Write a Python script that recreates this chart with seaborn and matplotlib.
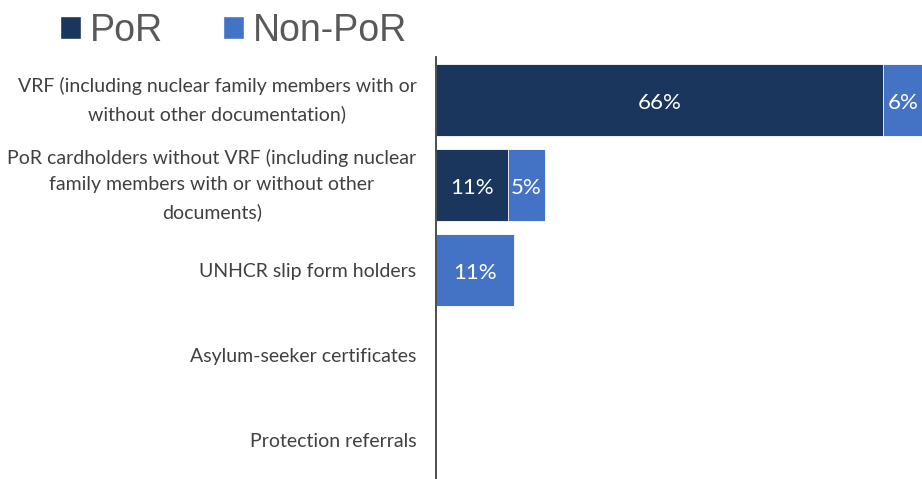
import pandas as pd
import matplotlib.pyplot as plt
from matplotlib.patches import Patch
import seaborn as sns

# Data
categories = [
    'VRF (including nuclear family members with or\nwithout other documentation)',
    'PoR cardholders without VRF (including nuclear\nfamily members with or without other\ndocuments)',
    'UNHCR slip form holders',
    'Asylum-seeker certificates',
    'Protection referrals',
]
por = [66, 10.6, 0, 0, 0]
non_por = [6, 5.5, 11.5, 0, 0]
por_labels = ['66%', '11%', '', '', '']
non_por_labels = ['6%', '5%', '11%', '', '']

df = pd.DataFrame({'category': categories, 'por': por, 'non_por': non_por})
df['total'] = df['por'] + df['non_por']

c_por = '#1a365d'
c_non = '#4472c4'
grey = '#595959'

sns.set_style('white')
fig = plt.figure(figsize=(9.22, 4.79), dpi=100)
ax = fig.add_axes([0.4729, -0.0073, 0.5271, 0.8873])

# Stacked bars: full length in Non-PoR colour, PoR drawn on top
sns.barplot(data=df, x='total', y='category', orient='h', color=c_non, saturation=1,
            width=0.85, edgecolor='white', linewidth=0.6, ax=ax)
sns.barplot(data=df, x='por', y='category', orient='h', color=c_por, saturation=1,
            width=0.85, edgecolor='white', linewidth=0.6, ax=ax)

# Value labels
for i, row in df.iterrows():
    if por_labels[i]:
        ax.text(row['por'] / 2, i + 0.03, por_labels[i], ha='center', va='center',
                color='white', fontsize=16, family='Lato')
    if non_por_labels[i]:
        ax.text(row['por'] + row['non_por'] / 2, i + 0.03, non_por_labels[i], ha='center',
                va='center', color='white', fontsize=16, family='Lato')

ax.set_xlim(0, 71.8)
ax.set_ylim(4.5, -0.5)
ax.set_xlabel('')
ax.set_ylabel('')
ax.set_xticks([])
for s in ['top', 'right', 'bottom']:
    ax.spines[s].set_visible(False)
ax.spines['left'].set_color('#404040')
ax.spines['left'].set_linewidth(1.3)
ax.tick_params(axis='y', length=0, pad=14)
for lab in ax.get_yticklabels():
    lab.set_fontfamily('Lato')
    lab.set_fontsize(14)
    lab.set_color('#404040')
    lab.set_multialignment('center')
    lab.set_linespacing(1.64)
    if '\n' in lab.get_text():
        lab.set_verticalalignment('center')

# Legend
handles = [Patch(facecolor=c_por, label='PoR'), Patch(facecolor=c_non, label='Non-PoR')]
leg = fig.legend(handles=handles, loc='upper left', bbox_to_anchor=(0.049, 1.005), ncol=2,
                 frameon=False, fontsize=27, handlelength=0.55, handleheight=0.55,
                 handletextpad=0.25, columnspacing=1.6, borderaxespad=0)
for t in leg.get_texts():
    t.set_color(grey)
    t.set_fontfamily('Liberation Sans')

fig.savefig('out.png', dpi=100)
